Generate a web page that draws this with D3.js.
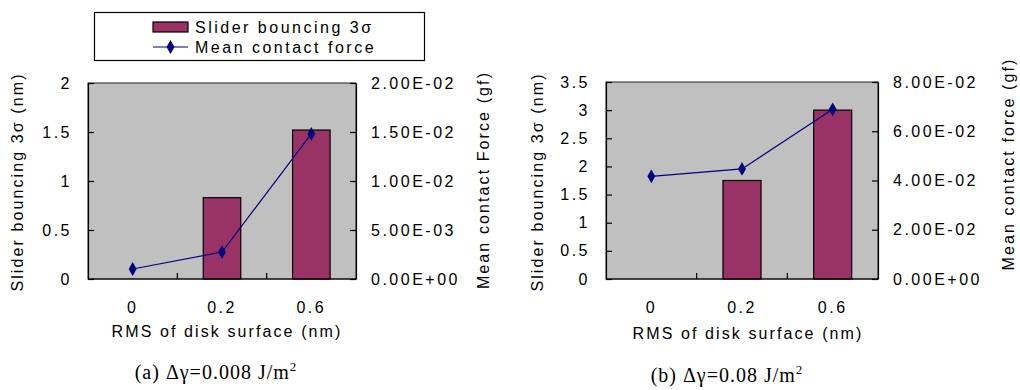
<!DOCTYPE html>
<html>
<head>
<meta charset="utf-8">
<script src="https://cdn.jsdelivr.net/npm/d3@7"></script>
<style>
  html, body { margin: 0; padding: 0; background: #fff; }
  svg { display: block; }
  .sans { font-family: "Liberation Sans", Arial, sans-serif; font-size: 16px; letter-spacing: 2.5px; fill: #000; }
  .title { letter-spacing: 2.1px; }
  .serif { font-family: "Liberation Serif", "Times New Roman", serif; font-size: 20px; letter-spacing: 1px; fill: #000; }
</style>
</head>
<body>
<svg id="chart" width="1020" height="390"></svg>
<script>
// ---- Data ----
const categories = ["0", "0.2", "0.6"];
const bouncingA = [0, 0.83, 1.52];           // nm, left axis
const forceA = [0.00102, 0.00275, 0.0148];   // gf, right axis
const bouncingB = [0, 1.75, 3.0];
const forceB = [0.0417, 0.0447, 0.0689];
const leftTicksA = [0, 0.5, 1, 1.5, 2];
const rightTicksA = [0, 0.005, 0.01, 0.015, 0.02];
const leftTicksB = [0, 0.5, 1, 1.5, 2, 2.5, 3, 3.5];
const rightTicksB = [0, 0.02, 0.04, 0.06, 0.08];
const seriesNames = ["Slider bouncing 3\u03c3", "Mean contact force"];
const xTitle = "RMS of disk surface (nm)";
const leftTitle = "Slider bouncing 3\u03c3 (nm)";
const rightTitleA = "Mean contact Force (gf)";
const rightTitleB = "Mean contact force (gf)";
const captionA = ["(a) \u0394\u03b3=0.008 J/m", "2"];
const captionB = ["(b) \u0394\u03b3=0.08 J/m", "2"];

const barColor = "#993366";
const lineColor = "#000080";
const plotBg = "#c0c0c0";

function sci(v) {
  let [m, e] = v.toExponential(2).split("e");
  let sign = e[0] === "-" ? "-" : "+";
  let n = Math.abs(parseInt(e, 10));
  return m + "E" + sign + (n < 10 ? "0" + n : n);
}

const svg = d3.select("#chart");

function panel(cfg) {
  const g = svg.append("g");
  const x = d3.scaleBand().domain(categories).range([cfg.left, cfg.right]).padding(0);
  const yL = d3.scaleLinear().domain([0, cfg.leftMax]).range([cfg.bottom, cfg.top]);
  const yR = d3.scaleLinear().domain([0, cfg.rightMax]).range([cfg.bottom, cfg.top]);

  g.append("rect").attr("x", cfg.left).attr("y", cfg.top)
    .attr("width", cfg.right - cfg.left).attr("height", cfg.bottom - cfg.top)
    .attr("fill", plotBg).attr("stroke", "#222").attr("stroke-width", 1);

  const bw = x.bandwidth() * 0.42;
  g.selectAll("rect.bar").data(cfg.bars.map((v, i) => ({c: categories[i], v})).filter(d => d.v > 0))
    .enter().append("rect").attr("class", "bar")
    .attr("x", d => x(d.c) + x.bandwidth() / 2 - bw / 2)
    .attr("y", d => yL(d.v))
    .attr("width", bw)
    .attr("height", d => cfg.bottom - yL(d.v))
    .attr("fill", barColor).attr("stroke", "#000").attr("stroke-width", 1.2);

  const ax = g.append("g").attr("transform", `translate(${cfg.left},0)`)
    .call(d3.axisLeft(yL).tickValues(cfg.leftTicks).tickFormat(d3.format("~g"))
      .tickSizeInner(-6).tickSizeOuter(0).tickPadding(16));
  const axR = g.append("g").attr("transform", `translate(${cfg.right},0)`)
    .call(d3.axisRight(yR).tickValues(cfg.rightTicks).tickFormat(sci)
      .tickSizeInner(-6).tickSizeOuter(0).tickPadding(15));
  const axB = g.append("g").attr("transform", `translate(0,${cfg.bottom})`)
    .call(d3.axisBottom(x).tickSize(0).tickPadding(23));
  axB.select(".domain").remove();
  [ax, axR, axB].forEach(a => {
    a.selectAll("text").attr("class", "sans").attr("font-size", null).attr("font-family", null);
    a.selectAll("line,path").attr("stroke", "#000").attr("stroke-width", 1.2);
    a.attr("font-size", null).attr("font-family", null);
  });
  g.append("line").attr("x1", cfg.left).attr("x2", cfg.right)
    .attr("y1", cfg.bottom).attr("y2", cfg.bottom)
    .attr("stroke", "#000").attr("stroke-width", 1.2);
  categories.slice(1).forEach(c => {
    g.append("line").attr("x1", x(c)).attr("x2", x(c))
      .attr("y1", cfg.bottom).attr("y2", cfg.bottom - 6)
      .attr("stroke", "#000").attr("stroke-width", 1.2);
  });

  const pts = cfg.line.map((v, i) => [x(categories[i]) + x.bandwidth() / 2, yR(v)]);
  g.append("path").attr("d", d3.line()(pts)).attr("fill", "none")
    .attr("stroke", lineColor).attr("stroke-width", 1.2);
  g.selectAll("path.mk").data(pts).enter().append("path").attr("class", "mk")
    .attr("transform", d => `translate(${d[0]},${d[1]})`)
    .attr("d", d3.symbol(d3.symbolDiamond, 55)).attr("fill", lineColor);

  g.append("text").attr("class", "sans title").attr("text-anchor", "middle")
    .attr("x", (cfg.left + cfg.right) / 2 + cfg.xTitleDx).attr("y", cfg.xTitleY).text(xTitle);
  g.append("text").attr("class", "sans title").attr("text-anchor", "middle")
    .attr("transform", `translate(${cfg.leftTitleX},${cfg.leftTitleY}) rotate(-90)`)
    .attr("dy", "0.35em").text(leftTitle);
  g.append("text").attr("class", "sans title").attr("text-anchor", "middle")
    .attr("transform", `translate(${cfg.rightTitleX},${cfg.rightTitleY}) rotate(-90)`)
    .attr("dy", "0.35em").text(cfg.rightTitle);
  const cap = g.append("text").attr("class", "serif").attr("text-anchor", "middle")
    .attr("x", cfg.capX).attr("y", cfg.capY);
  cap.append("tspan").text(cfg.caption[0]);
  cap.append("tspan").attr("dy", -8).attr("font-size", "13px").text(cfg.caption[1]);
}

panel({
  left: 88, right: 356, top: 83, bottom: 279,
  leftMax: 2, rightMax: 0.02, leftTicks: leftTicksA, rightTicks: rightTicksA,
  bars: bouncingA, line: forceA,
  xTitleY: 337, xTitleDx: 5,
  leftTitleX: 17, leftTitleY: 182, rightTitleX: 483, rightTitleY: 180,
  rightTitle: rightTitleA, caption: captionA, capX: 216, capY: 379
});
panel({
  left: 606, right: 878, top: 82, bottom: 279,
  leftMax: 3.5, rightMax: 0.08, leftTicks: leftTicksB, rightTicks: rightTicksB,
  bars: bouncingB, line: forceB,
  xTitleY: 339, xTitleDx: 6,
  leftTitleX: 537, leftTitleY: 182, rightTitleX: 1008, rightTitleY: 164,
  rightTitle: rightTitleB, caption: captionB, capX: 727, capY: 382
});

const lg = svg.append("g");
lg.append("rect").attr("x", 94.5).attr("y", 12.5).attr("width", 330).attr("height", 48)
  .attr("fill", "#fff").attr("stroke", "#000").attr("stroke-width", 1.2);
lg.append("rect").attr("x", 153).attr("y", 22).attr("width", 35).attr("height", 10)
  .attr("fill", barColor).attr("stroke", "#000").attr("stroke-width", 1.2);
lg.append("text").attr("class", "sans").attr("x", 195).attr("y", 27).attr("dy", "0.35em").text(seriesNames[0]);
lg.append("line").attr("x1", 153).attr("x2", 188).attr("y1", 47).attr("y2", 47)
  .attr("stroke", lineColor).attr("stroke-width", 1.2);
lg.append("path").attr("transform", "translate(170.5,47)")
  .attr("d", d3.symbol(d3.symbolDiamond, 55)).attr("fill", lineColor);
lg.append("text").attr("class", "sans").attr("x", 195).attr("y", 47).attr("dy", "0.35em").text(seriesNames[1]);
</script>
</body>
</html>
